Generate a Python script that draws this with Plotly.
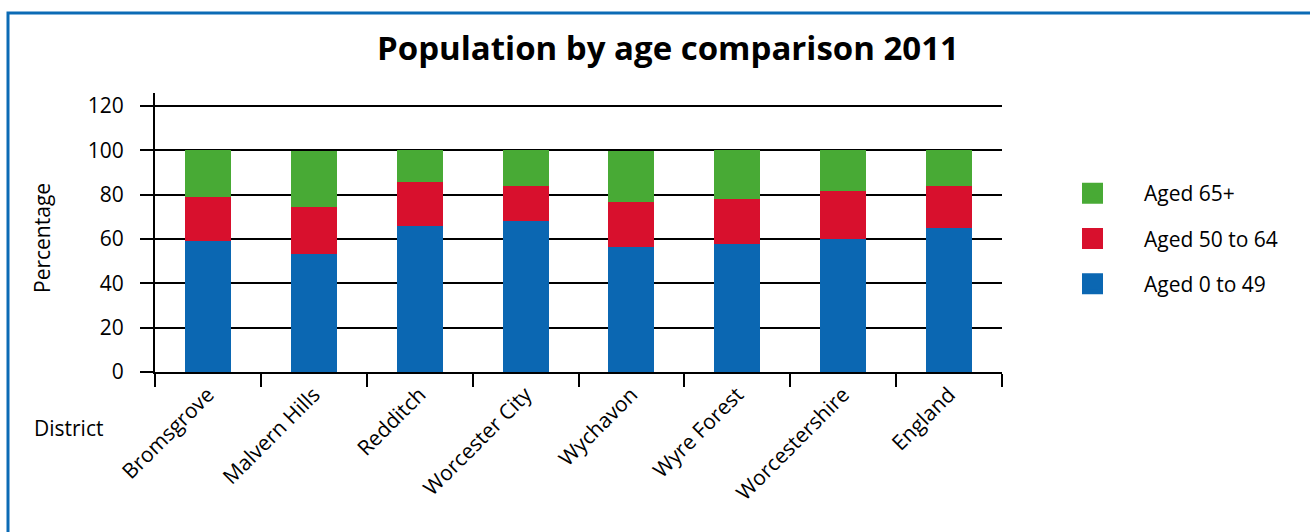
import plotly.graph_objects as go

districts = ["Bromsgrove", "Malvern Hills", "Redditch", "Worcester City",
             "Wychavon", "Wyre Forest", "Worcestershire", "England"]
aged_0_49 = [59, 53, 66, 68, 56.5, 57.5, 60, 65]
aged_50_64 = [20, 21.5, 19.5, 16, 20, 20.5, 21.5, 19]
aged_65_plus = [21, 25, 14.5, 16, 23, 22, 18.5, 16]
series_names = ["Aged 0 to 49", "Aged 50 to 64", "Aged 65+"]
series_colors = ["#0b67b2", "#d8102d", "#48aa35"]
y_ticks = [0, 20, 40, 60, 80, 100, 120]

W, H = 1310, 532
L, R, T, B = 155, 308, 93, 160
PW, PH = W - L - R, H - T - B
FONT = "Open Sans"


def px_x(px):
    return (px - L) / PW


def px_y(py):
    return (H - B - py) / PH


fig = go.Figure()
n = len(series_names)
for i, (name, vals, col) in enumerate(zip(series_names, [aged_0_49, aged_50_64, aged_65_plus],
                                          series_colors)):
    fig.add_trace(go.Bar(x=districts, y=vals, name=name, marker=dict(color=col, line=dict(width=0)),
                         width=0.434, showlegend=False))
    # legend-only entry with a larger square symbol (top legend row = top of stack)
    fig.add_trace(go.Scatter(x=[None], y=[None], mode="markers", name=name, legendgroup=name,
                             legendrank=1000 + (n - i),
                             marker=dict(symbol="square", size=16, color=col,
                                         line=dict(color=col, width=5))))

fig.update_layout(
    width=W, height=H,
    margin=dict(l=L, r=R, t=T, b=B),
    paper_bgcolor="white", plot_bgcolor="white",
    barmode="stack",
    font=dict(family=FONT, size=21, color="black"),
    title=dict(text="<b>Population by age comparison 2011</b>", xref="container", x=668 / W,
               xanchor="center", yref="container", y=1 - 48 / H, yanchor="middle",
               font=dict(family=FONT, size=33, color="black")),
    xaxis=dict(type="category", range=[-0.5, 7.5], showline=True, linecolor="black", linewidth=2,
               ticks="outside", tickson="boundaries", ticklen=13, tickwidth=2, tickcolor="black",
               tickangle=-45, showgrid=False, tickfont=dict(size=21)),
    yaxis=dict(range=[0, 125.8], tickvals=y_ticks, showline=True, linecolor="black", linewidth=2,
               ticks="outside", ticklen=13, tickwidth=2, tickcolor="black",
               showgrid=True, gridcolor="black", gridwidth=2, zeroline=False,
               ticklabelstandoff=12, tickfont=dict(size=21)),
    legend=dict(xref="container", yref="container", x=1041 / W, y=1 - 173 / H,
                xanchor="left", yanchor="top", traceorder="grouped", itemwidth=93,
                tracegroupgap=15, font=dict(size=21), bgcolor="rgba(0,0,0,0)"),
    shapes=[
        dict(type="line", xref="paper", yref="paper", x0=0, x1=0, y0=0, y1=px_y(385),
             line=dict(color="black", width=2)),
        dict(type="rect", xref="paper", yref="paper", x0=px_x(8), y0=px_y(13), x1=px_x(1330),
             y1=px_y(560), line=dict(color="#0b6bb5", width=3), layer="below"),
    ],
    annotations=[
        dict(text="Percentage", xref="paper", yref="paper", x=px_x(42), y=px_y(238),
             xanchor="center", yanchor="middle", textangle=-90, showarrow=False,
             font=dict(size=21)),
        dict(text="District", xref="paper", yref="paper", x=px_x(32), y=px_y(428),
             xanchor="left", yanchor="middle", showarrow=False, font=dict(size=21)),
    ],
)

fig.write_html("out.html")
